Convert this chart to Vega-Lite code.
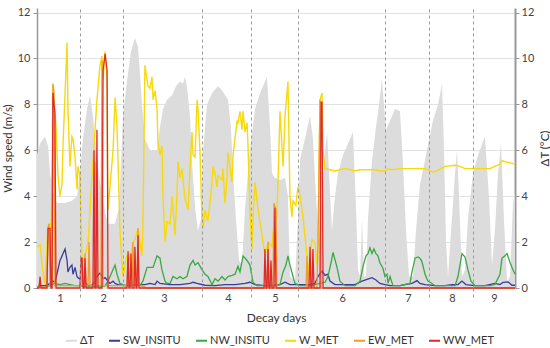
{
"$schema": "https://vega.github.io/schema/vega-lite/v6.json",
"width": 478, "height": 280,
"autosize": {"type": "none"},
"padding": {"left": 37, "top": 8, "right": 35, "bottom": 60},
"config": {
 "font": "Lato",
 "view": {"stroke": null},
 "axis": {"labelFont": "Lato", "labelFontSize": 11, "labelColor": "#444", "titleFont": "Lato", "titleFontSize": 11.5, "titleFontWeight": "normal", "titleColor": "#333", "tickColor": "#999", "domainColor": "#999", "gridColor": "#e2e2e2"},
 "legend": {"symbolType": "stroke", "symbolSize": 120, "symbolStrokeWidth": 2, "labelFont": "Lato", "labelFontSize": 11, "labelColor": "#333", "columnPadding": 11, "labelOffset": 2}
},
"datasets": {
 "dT": [{"t":0,"v":5.8},{"t":1.7,"v":6.3},{"t":4.4,"v":6.6},{"t":6.1,"v":6.2},{"t":7.2,"v":5.0},{"t":8.8,"v":4.2},{"t":11.0,"v":3.7},{"t":15.5,"v":3.7},{"t":19.3,"v":3.8},{"t":22.1,"v":4.0},{"t":23.7,"v":5.0},{"t":25.4,"v":6.5},{"t":27.6,"v":7.8},{"t":29.3,"v":8.4},{"t":30.9,"v":7.5},{"t":32.6,"v":6.0},{"t":34.8,"v":4.6},{"t":37.0,"v":3.5},{"t":39.2,"v":2.8},{"t":43.1,"v":2.8},{"t":45.3,"v":3.5},{"t":46.4,"v":5.5},{"t":47.5,"v":7.5},{"t":49.7,"v":9.0},{"t":51.9,"v":10.3},{"t":54.1,"v":10.9},{"t":55.8,"v":10.5},{"t":56.9,"v":9.3},{"t":58.0,"v":8.0},{"t":59.6,"v":6.5},{"t":62.4,"v":6.0},{"t":66.3,"v":6.0},{"t":67.9,"v":7.0},{"t":69.6,"v":7.8},{"t":71.8,"v":8.2},{"t":74.6,"v":8.4},{"t":76.8,"v":8.8},{"t":79.0,"v":9.0},{"t":80.6,"v":8.9},{"t":81.7,"v":9.2},{"t":82.8,"v":8.8},{"t":84.5,"v":7.5},{"t":85.6,"v":5.5},{"t":87.3,"v":3.5},{"t":88.9,"v":2.5},{"t":90.6,"v":3.0},{"t":91.7,"v":6.0},{"t":93.9,"v":8.0},{"t":96.7,"v":8.5},{"t":100.0,"v":8.8},{"t":102.2,"v":8.6},{"t":105.5,"v":8.2},{"t":107.1,"v":7.0},{"t":108.3,"v":5.0},{"t":109.9,"v":3.0},{"t":111.6,"v":1.2},{"t":113.2,"v":1.0},{"t":114.9,"v":3.5},{"t":117.6,"v":6.0},{"t":120.4,"v":7.8},{"t":123.2,"v":8.5},{"t":125.4,"v":8.9},{"t":127.0,"v":9.2},{"t":128.7,"v":7.0},{"t":129.8,"v":5.0},{"t":131.4,"v":4.8},{"t":134.2,"v":4.7},{"t":137.0,"v":4.8},{"t":138.6,"v":4.0},{"t":139.7,"v":0.5},{"t":142.5,"v":0.3},{"t":144.1,"v":3.0},{"t":145.3,"v":5.6},{"t":148.0,"v":6.5},{"t":150.8,"v":7.5},{"t":152.4,"v":6.5},{"t":154.1,"v":4.0},{"t":155.7,"v":2.0},{"t":157.4,"v":4.0},{"t":159.1,"v":6.0},{"t":160.2,"v":6.8},{"t":161.3,"v":5.0},{"t":162.9,"v":2.5},{"t":164.6,"v":4.0},{"t":166.2,"v":5.0},{"t":169.0,"v":5.8},{"t":171.8,"v":6.3},{"t":174.5,"v":6.8},{"t":176.2,"v":3.5},{"t":177.3,"v":0.8},{"t":178.4,"v":0.5},{"t":179.5,"v":3.0},{"t":180.6,"v":0.5},{"t":181.7,"v":0.5},{"t":182.8,"v":3.0},{"t":185.0,"v":5.5},{"t":187.2,"v":7.0},{"t":188.9,"v":8.0},{"t":190.5,"v":9.1},{"t":191.6,"v":8.0},{"t":192.8,"v":6.9},{"t":195.0,"v":7.3},{"t":197.7,"v":7.8},{"t":200.5,"v":7.7},{"t":202.1,"v":5.5},{"t":203.8,"v":2.5},{"t":205.5,"v":0.5},{"t":207.7,"v":0.5},{"t":209.3,"v":2.5},{"t":211.5,"v":4.5},{"t":215.4,"v":6.0},{"t":218.7,"v":7.3},{"t":221.5,"v":8.0},{"t":223.7,"v":8.9},{"t":224.8,"v":6.0},{"t":225.9,"v":2.0},{"t":227.0,"v":0.5},{"t":228.7,"v":2.5},{"t":230.9,"v":5.0},{"t":232.0,"v":6.0},{"t":233.1,"v":4.0},{"t":234.7,"v":0.5},{"t":236.4,"v":0.8},{"t":238.0,"v":3.0},{"t":240.8,"v":5.0},{"t":243.6,"v":5.8},{"t":247.4,"v":6.6},{"t":249.6,"v":4.0},{"t":251.3,"v":1.0},{"t":252.9,"v":2.5},{"t":254.6,"v":5.0},{"t":256.3,"v":6.3},{"t":257.9,"v":3.0},{"t":259.6,"v":0.3},{"t":261.3,"v":0.5},{"t":262.9,"v":3.7},{"t":264.0,"v":4.2}],
 "SW": [{"t":0,"v":0.05},{"t":1.7,"v":0.1},{"t":4.4,"v":0.1},{"t":6.1,"v":0.15},{"t":7.2,"v":0.2},{"t":8.8,"v":0.3},{"t":9.9,"v":0.25},{"t":11.0,"v":0.6},{"t":12.7,"v":1.2},{"t":14.4,"v":1.5},{"t":15.5,"v":1.7},{"t":16.6,"v":1.2},{"t":17.1,"v":0.7},{"t":18.2,"v":0.9},{"t":19.3,"v":1.0},{"t":19.9,"v":0.6},{"t":21.0,"v":0.9},{"t":22.1,"v":0.5},{"t":22.6,"v":0.45},{"t":23.7,"v":0.4},{"t":24.9,"v":0.35},{"t":26.5,"v":0.25},{"t":28.2,"v":0.1},{"t":30.4,"v":0.12},{"t":32.0,"v":0.3},{"t":33.1,"v":0.5},{"t":34.8,"v":0.65},{"t":35.9,"v":0.5},{"t":36.5,"v":0.4},{"t":37.6,"v":0.45},{"t":38.7,"v":0.35},{"t":40.3,"v":0.2},{"t":42.0,"v":0.3},{"t":43.1,"v":0.2},{"t":44.7,"v":0.15},{"t":46.9,"v":0.12},{"t":51.4,"v":0.1},{"t":56.9,"v":0.15},{"t":59.6,"v":0.15},{"t":62.4,"v":0.2},{"t":65.2,"v":0.15},{"t":66.3,"v":0.3},{"t":67.9,"v":0.2},{"t":73.5,"v":0.15},{"t":79.0,"v":0.15},{"t":84.5,"v":0.2},{"t":86.2,"v":0.25},{"t":88.4,"v":0.2},{"t":92.8,"v":0.12},{"t":98.3,"v":0.1},{"t":103.8,"v":0.15},{"t":109.4,"v":0.15},{"t":114.9,"v":0.2},{"t":117.6,"v":0.25},{"t":120.4,"v":0.15},{"t":125.9,"v":0.1},{"t":131.4,"v":0.12},{"t":134.2,"v":0.15},{"t":137.0,"v":0.25},{"t":139.7,"v":0.15},{"t":145.3,"v":0.15},{"t":150.8,"v":0.15},{"t":153.5,"v":0.2},{"t":155.2,"v":0.5},{"t":157.4,"v":0.75},{"t":159.1,"v":0.55},{"t":160.7,"v":0.6},{"t":161.8,"v":0.3},{"t":164.6,"v":0.15},{"t":170.1,"v":0.15},{"t":175.6,"v":0.15},{"t":179.5,"v":0.3},{"t":182.3,"v":0.38},{"t":185.0,"v":0.45},{"t":187.2,"v":0.35},{"t":189.4,"v":0.2},{"t":192.2,"v":0.15},{"t":195.0,"v":0.1},{"t":200.5,"v":0.1},{"t":203.2,"v":0.15},{"t":207.1,"v":0.2},{"t":209.9,"v":0.32},{"t":211.5,"v":0.2},{"t":214.3,"v":0.15},{"t":219.8,"v":0.1},{"t":225.3,"v":0.1},{"t":229.2,"v":0.15},{"t":232.5,"v":0.15},{"t":234.7,"v":0.3},{"t":236.9,"v":0.15},{"t":241.9,"v":0.1},{"t":247.4,"v":0.1},{"t":252.9,"v":0.2},{"t":255.7,"v":0.15},{"t":257.4,"v":0.25},{"t":260.2,"v":0.27},{"t":262.3,"v":0.12},{"t":264.0,"v":0.12}],
 "NW": [{"t":0,"v":0.05},{"t":4.4,"v":0.05},{"t":7.2,"v":0.1},{"t":9.9,"v":0.2},{"t":12.7,"v":0.15},{"t":15.5,"v":0.2},{"t":18.2,"v":0.15},{"t":21.0,"v":0.1},{"t":23.7,"v":0.1},{"t":26.5,"v":0.05},{"t":34.8,"v":0.05},{"t":37.6,"v":0.1},{"t":39.2,"v":0.3},{"t":41.4,"v":0.7},{"t":43.1,"v":1.0},{"t":44.2,"v":0.6},{"t":45.8,"v":0.2},{"t":48.6,"v":0.1},{"t":51.4,"v":0.1},{"t":54.1,"v":0.15},{"t":56.9,"v":0.1},{"t":58.5,"v":0.3},{"t":60.8,"v":0.9},{"t":62.4,"v":0.9},{"t":64.1,"v":0.9},{"t":66.3,"v":1.4},{"t":67.9,"v":1.3},{"t":69.0,"v":0.8},{"t":70.7,"v":0.3},{"t":71.8,"v":0.2},{"t":73.5,"v":0.2},{"t":75.1,"v":0.5},{"t":77.3,"v":0.4},{"t":79.0,"v":0.5},{"t":80.6,"v":0.4},{"t":82.8,"v":0.5},{"t":84.5,"v":1.0},{"t":86.2,"v":1.2},{"t":87.3,"v":1.0},{"t":88.9,"v":1.1},{"t":91.1,"v":0.8},{"t":92.8,"v":0.6},{"t":94.4,"v":0.5},{"t":96.7,"v":0.15},{"t":98.3,"v":0.4},{"t":100.0,"v":0.3},{"t":102.2,"v":0.5},{"t":103.8,"v":0.35},{"t":105.5,"v":0.5},{"t":107.7,"v":0.55},{"t":109.4,"v":0.6},{"t":111.0,"v":0.95},{"t":112.1,"v":0.7},{"t":113.8,"v":1.4},{"t":116.0,"v":1.2},{"t":117.6,"v":1.0},{"t":119.3,"v":0.25},{"t":121.5,"v":0.1},{"t":125.9,"v":0.1},{"t":131.4,"v":0.1},{"t":134.2,"v":0.15},{"t":135.9,"v":0.7},{"t":137.5,"v":1.0},{"t":138.6,"v":1.4},{"t":139.7,"v":1.0},{"t":141.4,"v":0.5},{"t":142.5,"v":0.2},{"t":145.3,"v":0.1},{"t":150.8,"v":0.1},{"t":153.5,"v":0.15},{"t":156.3,"v":0.2},{"t":159.1,"v":0.25},{"t":160.7,"v":0.5},{"t":162.4,"v":1.1},{"t":163.5,"v":1.55},{"t":165.7,"v":0.9},{"t":167.3,"v":0.3},{"t":170.1,"v":0.1},{"t":175.6,"v":0.1},{"t":178.4,"v":0.3},{"t":180.1,"v":0.95},{"t":181.7,"v":1.4},{"t":182.8,"v":1.5},{"t":183.9,"v":1.75},{"t":185.0,"v":1.5},{"t":186.1,"v":1.7},{"t":187.2,"v":1.5},{"t":188.3,"v":1.4},{"t":189.4,"v":1.1},{"t":191.1,"v":0.85},{"t":192.2,"v":0.5},{"t":193.3,"v":0.6},{"t":193.9,"v":0.2},{"t":195.0,"v":0.5},{"t":196.6,"v":0.1},{"t":200.5,"v":0.1},{"t":206.0,"v":0.2},{"t":207.1,"v":0.7},{"t":208.8,"v":1.3},{"t":210.4,"v":1.35},{"t":211.5,"v":1.3},{"t":212.6,"v":1.15},{"t":214.3,"v":0.6},{"t":215.9,"v":0.3},{"t":217.1,"v":0.25},{"t":219.8,"v":0.1},{"t":225.3,"v":0.1},{"t":230.9,"v":0.1},{"t":232.5,"v":0.5},{"t":234.7,"v":1.5},{"t":236.4,"v":1.35},{"t":238.0,"v":0.8},{"t":239.7,"v":0.3},{"t":241.9,"v":0.1},{"t":250.2,"v":0.1},{"t":252.9,"v":0.15},{"t":255.7,"v":0.6},{"t":256.8,"v":1.3},{"t":258.5,"v":1.4},{"t":259.6,"v":1.5},{"t":261.3,"v":1.1},{"t":262.3,"v":0.9},{"t":264.0,"v":0.6}],
 "W": [{"t":0,"v":1.8},{"t":1.7,"v":1.9},{"t":3.3,"v":0.7},{"t":4.4,"v":0.2},{"t":6.1,"v":2.7},{"t":7.2,"v":2.8},{"t":7.7,"v":1.0},{"t":8.8,"v":8.9},{"t":10.5,"v":7.0},{"t":11.6,"v":4.9},{"t":12.7,"v":4.0},{"t":13.8,"v":4.5},{"t":14.4,"v":6.3},{"t":15.5,"v":8.5},{"t":16.6,"v":10.7},{"t":17.1,"v":7.8},{"t":18.2,"v":5.3},{"t":19.3,"v":6.6},{"t":19.9,"v":6.5},{"t":21.0,"v":5.7},{"t":22.1,"v":4.3},{"t":22.6,"v":5.3},{"t":23.7,"v":4.9},{"t":24.9,"v":1.1},{"t":25.4,"v":1.2},{"t":26.5,"v":1.4},{"t":28.2,"v":2.0},{"t":30.9,"v":5.5},{"t":33.1,"v":8.2},{"t":34.8,"v":9.7},{"t":35.9,"v":10.1},{"t":36.5,"v":9.1},{"t":37.6,"v":10.3},{"t":38.7,"v":9.2},{"t":39.2,"v":3.4},{"t":40.3,"v":4.4},{"t":42.0,"v":6.0},{"t":43.1,"v":8.3},{"t":44.2,"v":7.0},{"t":45.8,"v":2.6},{"t":46.9,"v":1.1},{"t":47.5,"v":0.5},{"t":48.6,"v":1.0},{"t":49.7,"v":1.4},{"t":51.4,"v":1.2},{"t":53.0,"v":2.0},{"t":54.1,"v":2.1},{"t":55.8,"v":2.6},{"t":58.0,"v":1.4},{"t":58.5,"v":2.6},{"t":59.6,"v":9.7},{"t":61.3,"v":8.8},{"t":62.4,"v":8.7},{"t":63.5,"v":9.2},{"t":64.1,"v":8.2},{"t":65.2,"v":8.6},{"t":66.3,"v":7.8},{"t":66.8,"v":6.3},{"t":67.9,"v":5.8},{"t":69.0,"v":6.2},{"t":69.6,"v":4.0},{"t":70.7,"v":2.0},{"t":71.8,"v":2.9},{"t":73.5,"v":2.8},{"t":74.6,"v":4.0},{"t":75.1,"v":3.5},{"t":76.2,"v":2.3},{"t":77.3,"v":4.0},{"t":77.9,"v":5.5},{"t":79.0,"v":4.8},{"t":80.1,"v":5.2},{"t":81.7,"v":3.9},{"t":83.4,"v":3.4},{"t":84.5,"v":5.2},{"t":85.6,"v":6.8},{"t":86.2,"v":5.8},{"t":87.3,"v":5.7},{"t":88.4,"v":8.2},{"t":88.9,"v":7.8},{"t":90.0,"v":6.0},{"t":91.1,"v":3.0},{"t":91.7,"v":2.6},{"t":92.8,"v":3.4},{"t":94.4,"v":2.9},{"t":96.7,"v":4.6},{"t":97.2,"v":5.3},{"t":98.3,"v":5.0},{"t":99.4,"v":4.4},{"t":100.0,"v":4.9},{"t":102.2,"v":4.7},{"t":102.7,"v":5.2},{"t":103.8,"v":3.7},{"t":104.9,"v":4.8},{"t":105.5,"v":5.9},{"t":107.7,"v":4.6},{"t":108.3,"v":5.8},{"t":110.5,"v":7.3},{"t":111.0,"v":7.2},{"t":112.1,"v":7.7},{"t":113.2,"v":6.9},{"t":113.8,"v":7.7},{"t":114.9,"v":6.8},{"t":116.0,"v":7.2},{"t":116.5,"v":6.3},{"t":117.6,"v":3.4},{"t":118.7,"v":1.7},{"t":119.3,"v":3.0},{"t":120.4,"v":4.6},{"t":122.1,"v":3.4},{"t":124.3,"v":2.3},{"t":125.9,"v":1.4},{"t":127.6,"v":2.0},{"t":129.8,"v":1.8},{"t":131.4,"v":3.4},{"t":132.5,"v":3.0},{"t":134.2,"v":7.7},{"t":135.9,"v":5.3},{"t":137.0,"v":7.5},{"t":138.6,"v":9.0},{"t":139.7,"v":4.0},{"t":140.8,"v":3.1},{"t":141.4,"v":3.8},{"t":143.0,"v":3.6},{"t":144.1,"v":4.4},{"t":145.3,"v":4.0},{"t":146.9,"v":3.1},{"t":149.1,"v":1.4},{"t":149.7,"v":0.5},{"t":150.8,"v":1.5},{"t":151.9,"v":2.1},{"t":153.5,"v":2.0},{"t":154.6,"v":1.0},{"t":155.2,"v":2.0},{"t":156.3,"v":8.2},{"t":157.4,"v":8.5},{"t":158.0,"v":6.0},{"t":159.1,"v":5.2},{"t":161.8,"v":5.15},{"t":164.6,"v":5.1},{"t":167.3,"v":5.15},{"t":170.1,"v":5.2},{"t":172.9,"v":5.15},{"t":175.6,"v":5.1},{"t":178.4,"v":5.15},{"t":181.2,"v":5.15},{"t":183.9,"v":5.15},{"t":186.7,"v":5.15},{"t":189.4,"v":5.1},{"t":192.2,"v":5.1},{"t":193.9,"v":5.2},{"t":196.1,"v":5.15},{"t":200.5,"v":5.2},{"t":206.0,"v":5.2},{"t":214.3,"v":5.2},{"t":217.1,"v":5.1},{"t":218.7,"v":5.05},{"t":220.9,"v":5.1},{"t":225.3,"v":5.3},{"t":230.9,"v":5.35},{"t":233.6,"v":5.3},{"t":236.4,"v":5.2},{"t":239.2,"v":5.2},{"t":244.7,"v":5.2},{"t":250.2,"v":5.2},{"t":252.9,"v":5.3},{"t":255.7,"v":5.4},{"t":256.8,"v":5.55},{"t":258.5,"v":5.5},{"t":261.3,"v":5.45},{"t":264.0,"v":5.4}],
 "EW": [{"t":0,"v":0.05},{"t":5.5,"v":0.05},{"t":6.1,"v":2.6},{"t":6.6,"v":2.8},{"t":7.2,"v":0.1},{"t":8.3,"v":0.1},{"t":8.8,"v":8.9},{"t":9.4,"v":8.5},{"t":9.9,"v":0.1},{"t":24.3,"v":0.1},{"t":24.9,"v":1.2},{"t":25.4,"v":0.1},{"t":26.0,"v":0.1},{"t":26.5,"v":1.5},{"t":27.1,"v":0.1},{"t":28.2,"v":0.1},{"t":28.7,"v":2.0},{"t":29.3,"v":0.1},{"t":31.5,"v":0.1},{"t":32.0,"v":5.5},{"t":32.6,"v":0.1},{"t":35.3,"v":0.1},{"t":35.9,"v":9.9},{"t":36.5,"v":0.1},{"t":49.7,"v":0.1},{"t":50.3,"v":1.4},{"t":50.8,"v":0.1},{"t":52.5,"v":0.1},{"t":53.0,"v":2.0},{"t":53.6,"v":0.1},{"t":55.2,"v":0.1},{"t":55.8,"v":2.6},{"t":56.3,"v":0.1},{"t":59.6,"v":0.05},{"t":60.2,"v":0},{"t":127.0,"v":0},{"t":127.6,"v":2.0},{"t":128.1,"v":0},{"t":130.3,"v":0},{"t":130.9,"v":3.7},{"t":132.0,"v":3.4},{"t":132.5,"v":0},{"t":148.6,"v":0},{"t":149.1,"v":1.4},{"t":149.7,"v":0},{"t":154.6,"v":0},{"t":155.2,"v":2.0},{"t":156.3,"v":8.2},{"t":156.9,"v":0},{"t":264.0,"v":0}],
 "WW": [{"t":0,"v":0},{"t":1.1,"v":0},{"t":1.7,"v":0.5},{"t":2.2,"v":0},{"t":5.5,"v":0},{"t":6.1,"v":2.6},{"t":7.2,"v":2.6},{"t":7.7,"v":0},{"t":8.3,"v":0},{"t":8.8,"v":8.5},{"t":9.9,"v":7.6},{"t":10.5,"v":0},{"t":23.7,"v":0},{"t":24.3,"v":1.3},{"t":24.9,"v":1.3},{"t":25.4,"v":0},{"t":26.0,"v":0},{"t":26.5,"v":1.3},{"t":27.1,"v":0},{"t":30.9,"v":0},{"t":31.5,"v":6.0},{"t":32.0,"v":0},{"t":32.6,"v":0},{"t":33.1,"v":6.9},{"t":33.7,"v":0},{"t":35.9,"v":0},{"t":36.5,"v":9.5},{"t":37.6,"v":10.2},{"t":38.7,"v":9.5},{"t":39.2,"v":0},{"t":49.7,"v":0},{"t":50.3,"v":1.6},{"t":50.8,"v":0},{"t":51.4,"v":0},{"t":51.9,"v":1.5},{"t":52.5,"v":0},{"t":53.6,"v":0},{"t":54.1,"v":1.8},{"t":54.7,"v":0},{"t":55.2,"v":0},{"t":55.8,"v":2.3},{"t":56.3,"v":0},{"t":125.4,"v":0},{"t":125.9,"v":1.7},{"t":126.5,"v":0},{"t":127.0,"v":0},{"t":127.6,"v":1.7},{"t":128.1,"v":0},{"t":128.7,"v":0},{"t":129.2,"v":1.2},{"t":129.8,"v":0},{"t":130.9,"v":0},{"t":131.4,"v":3.5},{"t":132.0,"v":0},{"t":150.2,"v":0},{"t":150.8,"v":1.8},{"t":151.3,"v":0},{"t":151.9,"v":0},{"t":152.4,"v":1.7},{"t":153.0,"v":0},{"t":156.3,"v":0},{"t":156.9,"v":8.1},{"t":157.4,"v":8.1},{"t":158.0,"v":0},{"t":264.0,"v":0}]
},
"layer": [
 {
  "data": {"name": "dT"},
  "mark": {"type": "area", "opacity": 1},
  "encoding": {
   "x": {"field": "t", "type": "quantitative", "scale": {"domain": [0, 264], "nice": false},
     "axis": {"orient": "bottom", "title": "Decay days",
       "values": [12.7, 23.7, 36.5, 47.5, 70.1, 91.1, 105.5, 118.2, 131.4, 144.1, 168.5, 192.2, 204.9, 216.5, 229.2, 240.8, 252.4],
       "labelExpr": "indexof([12.7, 36.5, 70.1, 105.5, 131.4, 168.5, 204.9, 229.2, 252.4], datum.value) >= 0 ? indexof([12.7, 36.5, 70.1, 105.5, 131.4, 168.5, 204.9, 229.2, 252.4], datum.value) + 1 : ''",
       "labelOverlap": false, "labelFlush": false,
       "ticks": true, "tickSize": 12, "tickDash": [3, 3], "tickColor": "#999",
       "tickOpacity": {"condition": {"test": "indexof([12.7, 36.5, 70.1, 105.5, 131.4, 168.5, 204.9, 229.2, 252.4], datum.value) >= 0", "value": 0}, "value": 1},
       "grid": false, "domain": false, "labelPadding": -8, "titlePadding": 9, "titleFontSize": 12}},
   "y": {"field": "v", "type": "quantitative", "scale": {"domain": [0, 12.2], "nice": false},
     "axis": {"orient": "right", "values": [0,2,4,6,8,10,12], "grid": false, "title": "ΔT (°C)", "titleAngle": 270, "titleX": 30, "titleY": 140, "titleAlign": "center", "titleBaseline": "middle", "domainColor": "#999", "domainWidth": 2, "tickSize": 4, "labelPadding": 2}},
   "color": {"datum": "ΔT", "scale": {"domain": ["ΔT","SW_INSITU","NW_INSITU","W_MET","EW_MET","WW_MET"], "range": ["#dcdcdc","#3b3b9a","#3aa846","#f7d90c","#f39a2e","#df2a2a"]}, "legend": {"title": null, "orient": "none", "direction": "horizontal", "legendX": 28, "legendY": 326}}
  }
 },
 {
  "encoding": {
   "x": {"field": "t", "type": "quantitative", "scale": {"domain": [0, 264], "nice": false},
     "axis": {"orient": "top", "title": null, "values": [23.7, 47.5, 91.1, 118.2, 144.1, 192.2, 216.5, 240.8], "labels": false, "ticks": false, "domain": false, "grid": true, "gridDash": [3, 3], "gridColor": "#9a9a9a", "gridWidth": 1, "zindex": 1}},
   "y": {"field": "v", "type": "quantitative", "scale": {"domain": [0, 12.2], "nice": false},
     "axis": {"orient": "left", "values": [0,2,4,6,8,10,12], "grid": true, "title": "Wind speed (m/s)", "titlePadding": 4, "domainColor": "#999", "domainWidth": 1.5, "tickSize": 4, "labelPadding": 3}}
  },
  "layer": [
   {"data": {"name": "SW"}, "mark": {"type": "line", "strokeWidth": 1.3},
    "encoding": {"color": {"datum": "SW_INSITU"}}},
   {"data": {"name": "NW"}, "mark": {"type": "line", "strokeWidth": 1.3},
    "encoding": {"color": {"datum": "NW_INSITU"}}},
   {"data": {"name": "W"}, "mark": {"type": "line", "strokeWidth": 1.4},
    "encoding": {"color": {"datum": "W_MET"}}},
   {"data": {"name": "EW"}, "mark": {"type": "line", "strokeWidth": 1.3},
    "encoding": {"color": {"datum": "EW_MET"}}},
   {"data": {"name": "WW"}, "mark": {"type": "line", "strokeWidth": 1.3},
    "encoding": {"color": {"datum": "WW_MET"}}}
  ]
 }
],
"resolve": {"scale": {"y": "independent"}, "axis": {"x": "independent"}}
}
